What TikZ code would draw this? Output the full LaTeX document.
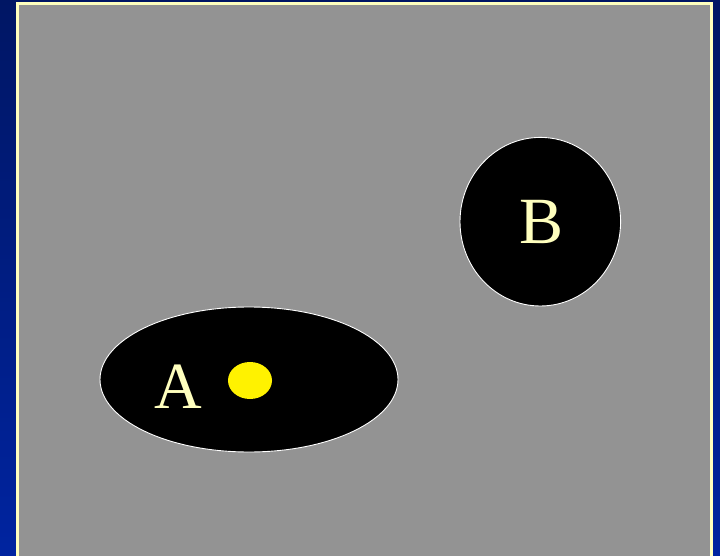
\documentclass[tikz,border=0pt]{standalone}
\usepackage{fontspec}
\setmainfont{Liberation Serif}
\definecolor{navytop}{RGB}{0,22,100}
\definecolor{navybot}{RGB}{0,36,160}
\definecolor{panelgray}{RGB}{147,147,147}
\definecolor{paleyellow}{RGB}{255,255,190}
\tikzset{
  region/.style={ellipse, draw=white, line width=0.9pt, fill=black, inner sep=0pt},
  lbl/.style={text=paleyellow, font=\fontsize{66}{66}\selectfont, inner sep=0pt},
}
\usetikzlibrary{shapes.geometric}
\begin{document}
\begin{tikzpicture}[x=1pt,y=-1pt]
\useasboundingbox (0,0) rectangle (720,556);
\shade[top color=navytop, bottom color=navybot] (0,0) rectangle (720,556);
\draw[draw=paleyellow, line width=2.6pt, fill=panelgray] (17.3,3.3) rectangle (711.7,570);
\node[region, minimum width=298pt, minimum height=145pt] (A) at (249,379.5) {};
\node[region, minimum width=160.6pt, minimum height=168.6pt] (B) at (540.3,221.7) {};
\node[ellipse, fill=yellow, inner sep=0pt, minimum width=44pt, minimum height=37pt] (dot) at (250,380.5) {};
\node[lbl, anchor=base] (la) at (178.3,408) {A};
\node[lbl, anchor=base] (lb) at (541.3,243.3) {B};
\end{tikzpicture}
\end{document}
